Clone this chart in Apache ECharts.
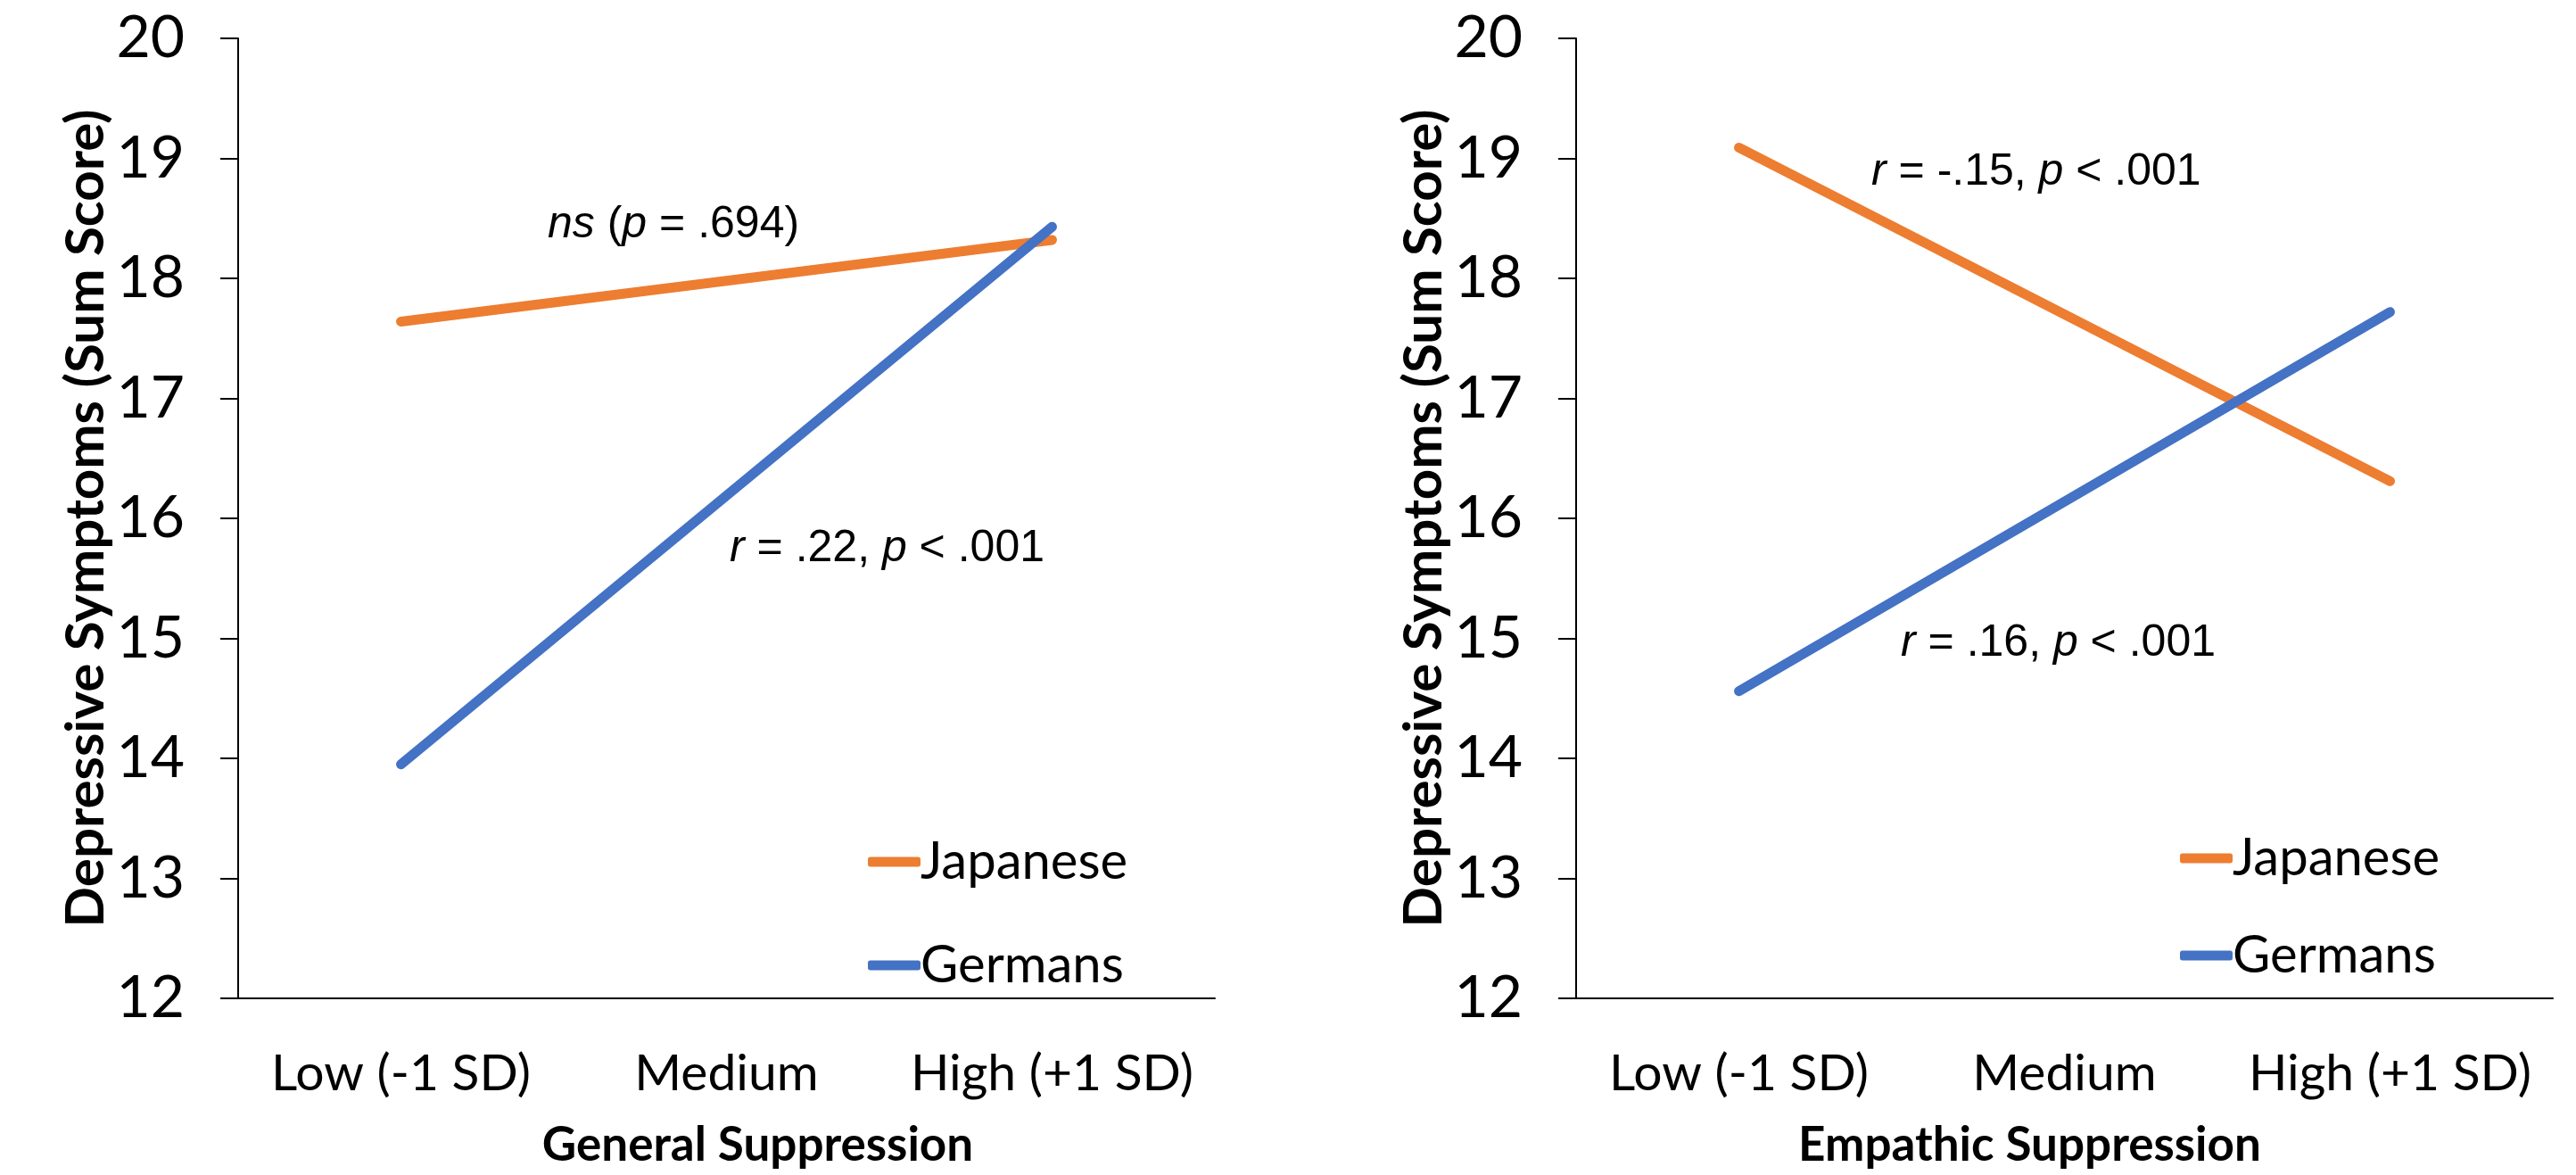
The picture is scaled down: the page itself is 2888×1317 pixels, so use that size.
<!DOCTYPE html>
<html>
<head>
<meta charset="utf-8">
<script src="https://cdn.jsdelivr.net/npm/echarts@6/dist/echarts.min.js"></script>
<style>
  html, body { margin: 0; padding: 0; background: #fff; }
  #main { width: 2888px; height: 1317px; }
</style>
</head>
<body>
<div id="main"></div>
<script>
    var chart = echarts.init(document.getElementById('main'));

    // categories / values
    var categories = ['Low (-1 SD)', 'Medium', 'High (+1 SD)'];
    var seriesNames = ['Japanese', 'Germans'];
    // only Low and High were plotted, Medium left empty (line joins them)
    var generalJapanese = [17.64, null, 18.32];
    var generalGermans = [13.95, null, 18.43];
    var empathicJapanese = [19.09, null, 16.31];
    var empathicGermans = [14.56, null, 17.72];
    var yMin = 12, yMax = 20, yStep = 1;
    var xTitles = ['General Suppression', 'Empathic Suppression'];
    var yTitle = 'Depressive Symptoms (Sum Score)';
    var notes = [
        '{i|ns} ({i|p} = .694)',
        '{i|r} = .22, {i|p} < .001',
        '{i|r} = -.15, {i|p} < .001',
        '{i|r} = .16, {i|p} < .001'
    ];

    var ORANGE = '#ED7D31', BLUE = '#4472C4';
    var FONT = 'Lato';
    var NOTE_FONT = '"Liberation Sans", Arial';

    // x title nudges (px) - Excel did not center them exactly
    var titlePad = [[0, 0, 0, 70], [0, 78, 0, 0]];

    function xAxis(i) {
        return {
            type: 'category',
            gridIndex: i,
            data: categories,
            boundaryGap: true,
            axisLine: { lineStyle: { color: '#000', width: 2 } },
            axisTick: { length: 19, lineStyle: { color: '#000', width: 2 } },
            axisLabel: { color: '#000', fontFamily: FONT, fontSize: 57, margin: 56, interval: 0 },
            name: xTitles[i],
            nameLocation: 'middle',
            nameGap: 138,
            nameTextStyle: { color: '#000', fontFamily: FONT, fontWeight: 'bold', fontSize: 53, padding: titlePad[i] }
        };
    }
    function yAxis(i) {
        return {
            type: 'value',
            gridIndex: i,
            min: yMin, max: yMax, interval: yStep,
            splitLine: { show: false },
            axisLine: { show: true, lineStyle: { color: '#000', width: 2 } },
            axisTick: { show: true, length: 20, lineStyle: { color: '#000', width: 2 } },
            axisLabel: { color: '#000', fontFamily: FONT, fontSize: 66, margin: 60 },
            name: yTitle,
            nameLocation: 'middle',
            nameGap: 132,
            nameTextStyle: { color: '#000', fontFamily: FONT, fontWeight: 'bold', fontSize: 60 }
        };
    }
    function line(name, color, i, data) {
        return {
            name: name,
            type: 'line',
            xAxisIndex: i,
            yAxisIndex: i,
            data: data,
            connectNulls: true,
            symbol: 'none',
            color: color,
            lineStyle: { color: color, width: 11, cap: 'round' },
            animation: false
        };
    }
    function legend(left, top, gap) {
        return {
            data: seriesNames,
            orient: 'vertical',
            left: left,
            top: top,
            icon: 'roundRect',
            itemWidth: 59,
            itemHeight: 11,
            itemGap: gap,
            selectedMode: false,
            textStyle: { color: '#000', fontFamily: FONT, fontSize: 58, lineHeight: 60, padding: [0, 0, 0, -5] }
        };
    }
    function note(text, x, y) {
        return {
            type: 'text',
            x: x,
            y: y,
            style: {
                text: text,
                fill: '#000',
                fontFamily: NOTE_FONT,
                fontSize: 50,
                verticalAlign: 'middle',
                align: 'left',
                rich: {
                    i: { fontFamily: NOTE_FONT, fontSize: 50, fontStyle: 'italic', fill: '#000' }
                }
            }
        };
    }

    chart.setOption({
        backgroundColor: '#fff',
        animation: false,
        grid: [
            { left: 267, top: 43, width: 1095, height: 1076 },
            { left: 1767, top: 43, width: 1095, height: 1076 }
        ],
        xAxis: [xAxis(0), xAxis(1)],
        yAxis: [yAxis(0), yAxis(1)],
        legend: [legend(968, 931, 56), legend(2439, 927, 49)],
        series: [
            line('Japanese', ORANGE, 0, generalJapanese),
            line('Germans', BLUE, 0, generalGermans),
            line('Japanese', ORANGE, 1, empathicJapanese),
            line('Germans', BLUE, 1, empathicGermans)
        ],
        graphic: [
            note(notes[0], 614, 252),
            note(notes[1], 818, 615),
            note(notes[2], 2098, 193),
            note(notes[3], 2131, 721)
        ]
    });
</script>
</body>
</html>
